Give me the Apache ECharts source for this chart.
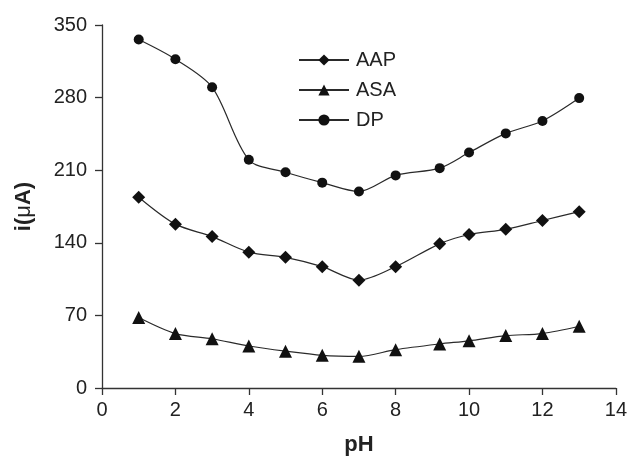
<!DOCTYPE html>
<html>
<head>
<meta charset="utf-8">
<script src="https://cdn.jsdelivr.net/npm/echarts@6/dist/echarts.min.js"></script>
<style>html,body{margin:0;padding:0;background:#fff;}#c{width:630px;height:461px;}</style>
</head>
<body>
<div id="c"></div>
<script>
var seriesNames = ['AAP', 'ASA', 'DP'];
var pH = [1, 2, 3, 4, 5, 6, 7, 8, 9.2, 10, 11, 12, 13];
var aap = [184, 158, 146, 131, 126, 117, 104, 117, 139, 148, 153, 161.5, 170];
var asa = [68, 52.5, 47.5, 40.5, 35.5, 31.5, 30.5, 37, 42.5, 45.5, 50.5, 52.5, 59.5];
var dp = [336, 317, 290, 220, 208, 198, 189.5, 205, 212, 227, 245.5, 257.5, 279.5];
var xTicks = [0, 2, 4, 6, 8, 10, 12, 14];
var yTicks = [0, 70, 140, 210, 280, 350];

function pairs(xs, ys) { return xs.map(function (x, i) { return [x, ys[i]]; }); }

var chart = echarts.init(document.getElementById('c'), null, { renderer: 'canvas' });
var font = 'Liberation Sans, Arial, Helvetica, sans-serif';
var axisCol = '#333';
var lineStyle = { color: '#2a2a2a', width: 1.2 };
function mk(name, data, symbol, size) {
  return {
    name: name, type: 'line', data: pairs(pH, data), smooth: 0.3,
    symbol: symbol, symbolSize: size, showSymbol: true,
    lineStyle: lineStyle, itemStyle: { color: '#111', borderWidth: 0 },
    emphasis: { disabled: true }, animation: false
  };
}
chart.setOption({
  backgroundColor: '#fff',
  animation: false,
  grid: { left: 102, top: 25, width: 516, height: 368, containLabel: false },
  legend: {
    orient: 'vertical', left: 293, top: 45,
    itemWidth: 50, itemHeight: 14, itemGap: 10,
    textStyle: { fontFamily: font, fontSize: 20, lineHeight: 20, color: '#222', padding: [0, 0, 0, 2] },
    data: seriesNames
  },
  xAxis: {
    type: 'value', min: xTicks[0], max: xTicks[xTicks.length - 1], interval: 2,
    name: 'pH', nameLocation: 'middle', nameGap: 46,
    nameTextStyle: { fontFamily: font, fontSize: 22, fontWeight: 'bold', color: '#222' },
    axisLine: { show: true, onZero: false, lineStyle: { color: axisCol, width: 1.3 } },
    axisTick: { show: true, inside: false, length: 7, lineStyle: { color: axisCol, width: 1.3 } },
    axisLabel: { fontFamily: font, fontSize: 20, color: '#222', margin: 12 },
    splitLine: { show: false }
  },
  yAxis: {
    type: 'value', min: yTicks[0], max: yTicks[yTicks.length - 1], interval: 70,
    name: '{b|i(}{m|μ}{b|A)}', nameLocation: 'middle', nameGap: 67, nameRotate: 90,
    nameTextStyle: {
      rich: {
        b: { fontFamily: font, fontSize: 22, fontWeight: 'bold', color: '#222' },
        m: { fontFamily: font, fontSize: 22, fontWeight: 'normal', color: '#222' }
      }
    },
    axisLine: { show: true, lineStyle: { color: axisCol, width: 1.3 } },
    axisTick: { show: true, inside: false, length: 7, lineStyle: { color: axisCol, width: 1.3 } },
    axisLabel: { fontFamily: font, fontSize: 20, color: '#222', margin: 15 },
    splitLine: { show: false }
  },
  series: [
    mk('AAP', aap, 'diamond', 13),
    mk('ASA', asa, 'triangle', 13),
    mk('DP', dp, 'circle', 10)
  ]
});
</script>
</body>
</html>
